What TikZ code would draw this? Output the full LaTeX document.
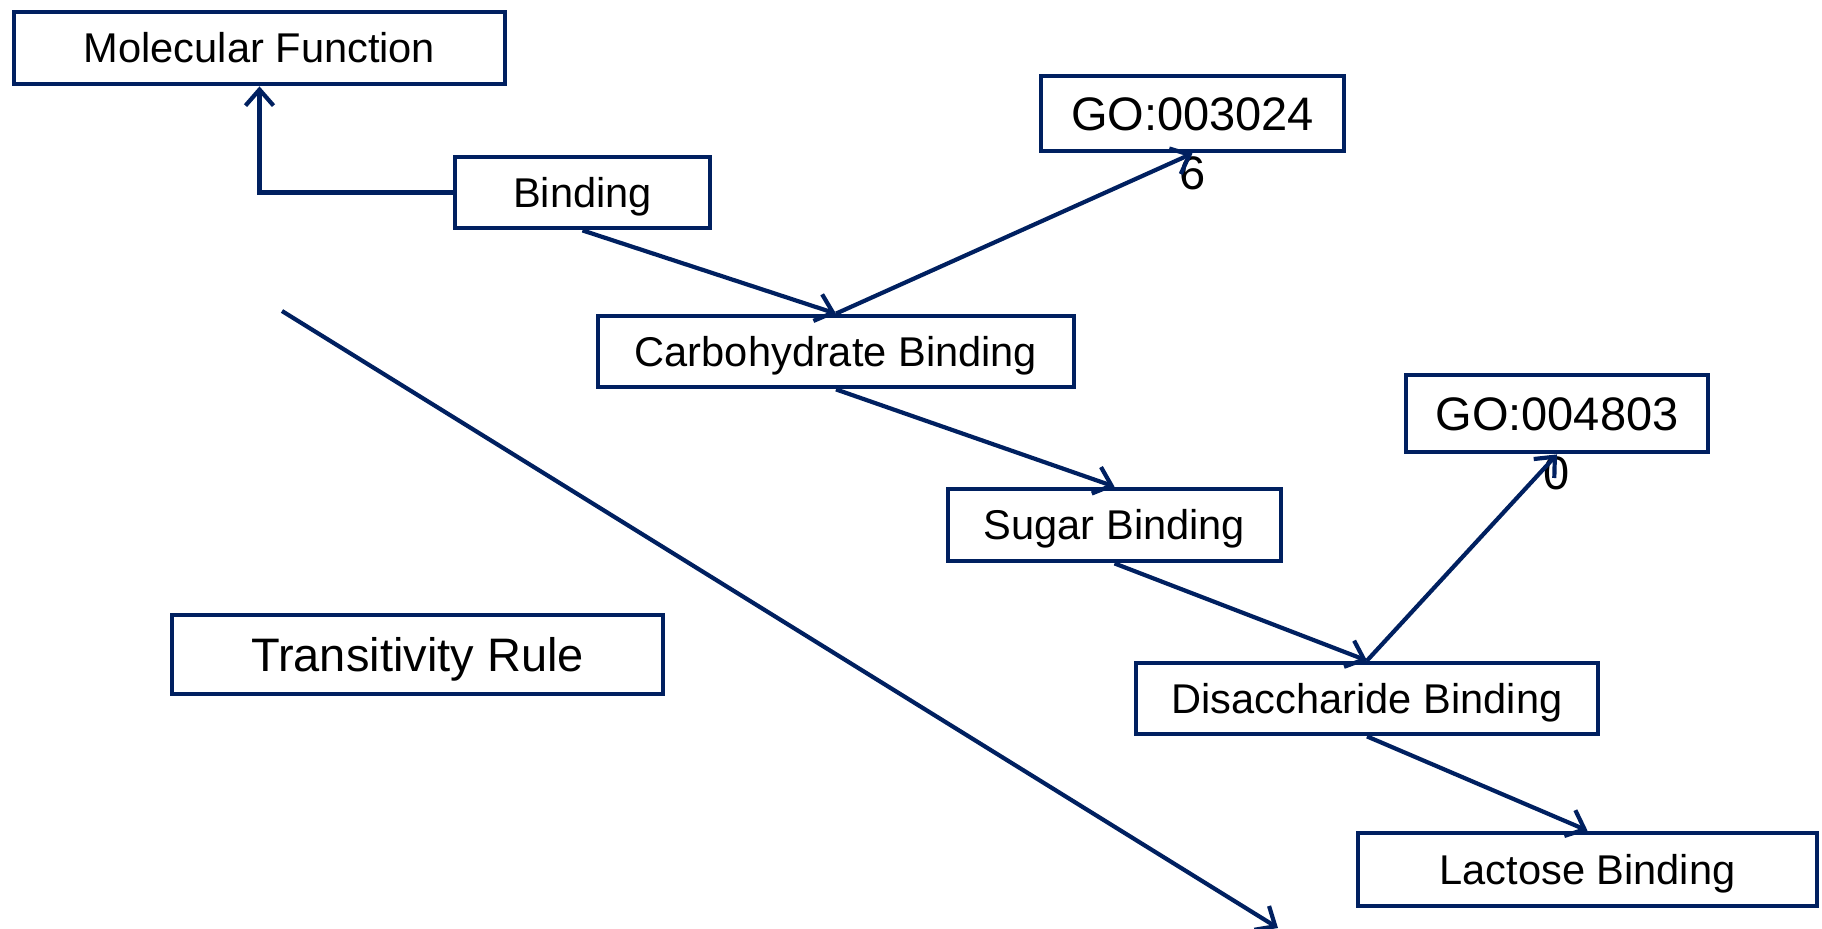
\documentclass[tikz,border=0pt]{standalone}
\usepackage{fontspec}
\setmainfont{Liberation Sans}
\usetikzlibrary{arrows.meta}
\definecolor{navy}{RGB}{0,32,96}
\begin{document}
\begin{tikzpicture}[x=0.5pt,y=-0.5pt,
  box/.style={draw=navy, line width=2.4pt, fill=white, inner sep=0pt,
    text height=14.9pt, text depth=0pt,
    font=\fontsize{20.8}{25}\selectfont},
  bigbox/.style={box, text height=16.8pt,
    font=\fontsize{23.5}{28}\selectfont},
  overflow/.style={inner sep=0pt, text height=16.8pt, text depth=0pt,
    font=\fontsize{23.5}{28}\selectfont},
  link/.style={draw=navy, line width=2.1pt,
    -{Straight Barb[length=8pt,width=14pt]}},
]
\useasboundingbox (0,0) rectangle (1822,928);

% term boxes
\node[box, minimum width=245.5pt, minimum height=36pt] (mf) at (259.5,48) {Molecular Function};
\node[box, minimum width=127.5pt, minimum height=35.5pt] (bind) at (582.5,192.5) {Binding};
\node[bigbox, minimum width=151.5pt, minimum height=37.5pt] (go1) at (1192.5,113.5) {GO:003024};
\node[overflow] (go1tail) at ([yshift=-29.5pt]go1.center) {6};
\node[box, minimum width=238pt, minimum height=35.5pt] (carb) at (836,351.5) {Carbohydrate Binding};
\node[bigbox, minimum width=151pt, minimum height=38.5pt] (go2) at (1557,413.5) {GO:004803};
\node[overflow] (go2tail) at ([yshift=-29.5pt]go2.center) {0};
\node[box, minimum width=166.5pt, minimum height=36pt] (sugar) at (1114.5,525) {Sugar Binding};
\node[box, minimum width=231pt, minimum height=35.5pt] (disac) at (1367,698.5) {Disaccharide Binding};
\node[box, minimum width=229.5pt, minimum height=36.5pt] (lact) at (1587.5,869.5) {Lactose Binding};
\node[bigbox, minimum width=245.5pt, minimum height=39.5pt] (trans) at (417.5,654.5) {Transitivity Rule};

% long diagonal arrow
\coordinate (diagA) at (282,311);
\coordinate (diagB) at (1278,928);

% connectors
\draw[link] (bind.west) -| (mf.south);
\draw[link] (bind.south) -- (carb.north);
\draw[link] (carb.north) -- (go1.south);
\draw[link] (carb.south) -- (sugar.north);
\draw[link] (sugar.south) -- (disac.north);
\draw[link] (disac.north) -- (go2.south);
\draw[link] (disac.south) -- (lact.north);
\draw[link] (diagA) -- (diagB);
\end{tikzpicture}
\end{document}
